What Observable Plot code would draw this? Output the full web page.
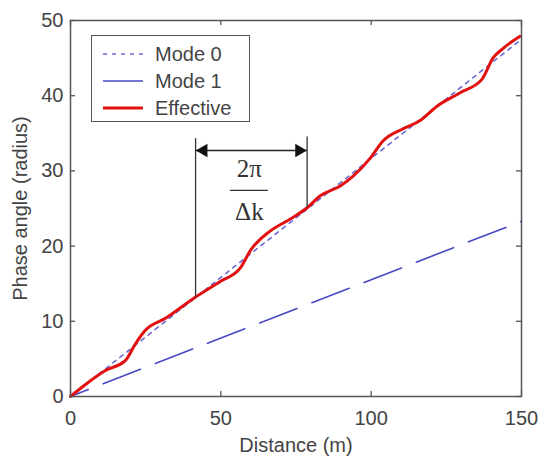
<!DOCTYPE html>
<html>
<head>
<meta charset="utf-8">
<script src="https://cdn.jsdelivr.net/npm/d3@7"></script>
<script src="https://cdn.jsdelivr.net/npm/@observablehq/plot@0.6"></script>
<style>
  body { margin: 0; background: white; }
  #chart { position: relative; width: 539px; height: 456px; font-family: "Liberation Sans", Arial, sans-serif; }
  #legend { position: absolute; left: 91px; top: 35px; width: 159px; height: 87px; border: 1.5px solid #555; background: white; box-sizing: border-box; }
  .row { position: absolute; left: 0; height: 24px; display: flex; align-items: center; }
  .row svg { position: absolute; left: 10px; }
  .row span { position: absolute; left: 63px; font-size: 20px; color: #444; white-space: nowrap; line-height: 24px; }
</style>
</head>
<body>
<div id="chart"></div>
<script>
// ---- data ----
const distance = [0, 5, 11.6, 18.3, 21.6, 24.9, 31.6, 41.5, 49.8, 56.5, 59.8, 66.4, 73.1, 78.7, 83.1, 89.7, 94.0, 99.7, 104.0, 110.6, 116.3, 121.9, 129.6, 136.9, 140.5, 143.9, 149.5];
const effective = [0, 1.6, 3.45, 4.8, 7.0, 8.8, 10.4, 13.2, 15.3, 17.1, 19.4, 22.0, 23.6, 25.1, 26.7, 28.0, 29.3, 31.7, 34.0, 35.6, 36.7, 38.6, 40.4, 42.2, 45.0, 46.3, 47.9];
const modeDistance = [0, 150];
const mode0 = [0, 47.5];
const mode1 = [0, 23.3];
const xTicks = [0, 50, 100, 150];
const yTicks = [0, 10, 20, 30, 40, 50];
const seriesNames = ["Mode 0", "Mode 1", "Effective"];
// annotation: one period 2π/Δk
const periodX = [41.6, 78.7];
const periodTop = [34.3, 34.5];
const periodBottom = [13.2, 25.1];
const arrowY = 32.7;
const fracX = 59.5;
const fracTopY = 30.3;
const fracBarY = 27.4;
const fracBarHalf = 6.3;
const fracBottomY = 24.6;

const effData = distance.map((d, i) => ({x: d, y: effective[i]}));
const m0Data = modeDistance.map((d, i) => ({x: d, y: mode0[i]}));
const m1Data = modeDistance.map((d, i) => ({x: d, y: mode1[i]}));
const periodData = periodX.map((x, i) => ({x, top: periodTop[i], bottom: periodBottom[i]}));

const colMode0 = "#6a6ad6";
const colMode1 = "#4848c4";
const colEff = "#e21010";
const frameCol = "#555";
const serif = "'Liberation Serif', 'Times New Roman', serif";

const chart = Plot.plot({
  width: 539,
  height: 456,
  marginLeft: 70,
  marginRight: 18,
  marginTop: 20,
  marginBottom: 60,
  x: {domain: [0, 150]},
  y: {domain: [0, 50]},
  style: {fontFamily: "'Liberation Sans', Arial, sans-serif", fontSize: "20px", color: "#444", background: "white"},
  marks: [
    Plot.line(m1Data, {x: "x", y: "y", stroke: colMode1, strokeWidth: 1.6, strokeDasharray: "40,16", strokeDashoffset: 21}),
    Plot.line(m0Data, {x: "x", y: "y", stroke: colMode0, strokeWidth: 1.6, strokeDasharray: "4,5"}),
    Plot.line(effData, {x: "x", y: "y", stroke: colEff, strokeWidth: 3, curve: "monotone-x"}),
    // annotation
    Plot.ruleX(periodData, {x: "x", y1: "bottom", y2: "top", stroke: "#333", strokeWidth: 1.3}),
    Plot.ruleY([arrowY], {x1: periodX[0], x2: periodX[1], stroke: "#222", strokeWidth: 1.5}),
    Plot.dot([periodX[0]], {x: d => d, y: arrowY, symbol: "triangle", r: 5, rotate: -90, fill: "#111", stroke: "none", dx: 8}),
    Plot.dot([periodX[1]], {x: d => d, y: arrowY, symbol: "triangle", r: 5, rotate: 90, fill: "#111", stroke: "none", dx: -8}),
    Plot.text(["2π"], {x: fracX, y: fracTopY, text: d => d, fontFamily: serif, fontSize: 25, fill: "#333"}),
    Plot.ruleY([fracBarY], {x1: fracX - fracBarHalf, x2: fracX + fracBarHalf, stroke: "#333", strokeWidth: 1.3}),
    Plot.text(["Δk"], {x: fracX, y: fracBottomY, text: d => d, fontFamily: serif, fontSize: 25, fill: "#333"}),
    // frame and inward ticks
    Plot.frame({stroke: frameCol, strokeWidth: 1.5}),
    Plot.tickX(xTicks, {x: d => d, insetTop: 371, stroke: frameCol, strokeWidth: 1.3}),
    Plot.tickX(xTicks, {x: d => d, insetBottom: 371, stroke: frameCol, strokeWidth: 1.3}),
    Plot.tickY(yTicks, {y: d => d, insetRight: 446, stroke: frameCol, strokeWidth: 1.3}),
    Plot.tickY(yTicks, {y: d => d, insetLeft: 446, stroke: frameCol, strokeWidth: 1.3}),
    Plot.axisX({ticks: xTicks, tickSize: 0, tickPadding: 14, fontSize: 20, label: "Distance (m)", labelAnchor: "center", labelArrow: "none", labelOffset: 55}),
    Plot.axisY({ticks: yTicks, tickSize: 0, tickPadding: 7, fontSize: 20, label: "Phase angle (radius)", labelAnchor: "center", labelArrow: "none", labelOffset: 58})
  ]
});

const container = document.getElementById("chart");
container.appendChild(chart);

// legend inside the axes (upper left)
const legend = document.createElement("div");
legend.id = "legend";
const styles = [
  {stroke: colMode0, width: 1.6, dash: "4,5"},
  {stroke: colMode1, width: 1.6, dash: null},
  {stroke: colEff, width: 3, dash: null}
];
seriesNames.forEach((name, i) => {
  const row = document.createElement("div");
  row.className = "row";
  row.style.top = (6 + i * 27) + "px";
  const s = styles[i];
  row.innerHTML = `<svg width="42" height="24"><line x1="1" x2="41" y1="12" y2="12" stroke="${s.stroke}" stroke-width="${s.width}" ${s.dash ? `stroke-dasharray="${s.dash}"` : ""}/></svg><span>${name}</span>`;
  legend.appendChild(row);
});
container.appendChild(legend);
</script>
</body>
</html>
